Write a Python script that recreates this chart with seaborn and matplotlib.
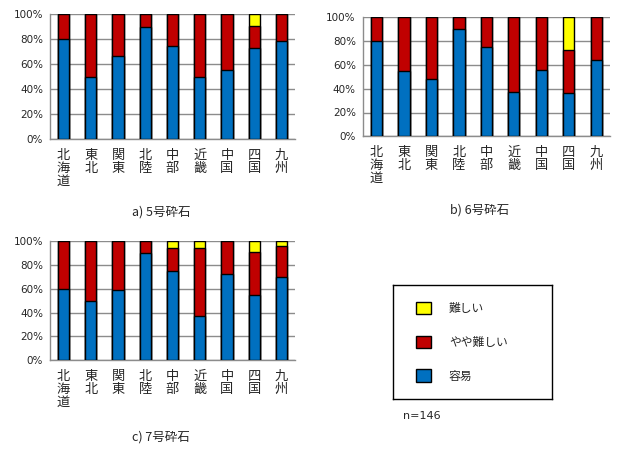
import matplotlib
matplotlib.use("Agg")
import matplotlib.pyplot as plt
import seaborn as sns
import pandas as pd
import numpy as np
from matplotlib.patches import Patch

regions = ["北海道", "東北", "関東", "北陸", "中部", "近畿", "中国", "四国", "九州"]
series_names = ["容易", "やや難しい", "難しい"]
colors = {"容易": "#0070C0", "やや難しい": "#C00000", "難しい": "#FFFF00"}

# a) 5号砕石 (percent)
a_easy = [80.0, 50.0, 66.7, 90.0, 75.0, 50.0, 55.6, 72.7, 78.6]
a_mid = [20.0, 50.0, 33.3, 10.0, 25.0, 50.0, 44.4, 18.2, 21.4]
a_hard = [0.0, 0.0, 0.0, 0.0, 0.0, 0.0, 0.0, 9.1, 0.0]

# b) 6号砕石
b_easy = [80.0, 54.5, 48.0, 90.0, 75.0, 37.5, 55.6, 36.4, 64.3]
b_mid = [20.0, 45.5, 52.0, 10.0, 25.0, 62.5, 44.4, 36.3, 35.7]
b_hard = [0.0, 0.0, 0.0, 0.0, 0.0, 0.0, 0.0, 27.3, 0.0]

# c) 7号砕石
c_easy = [60.0, 50.0, 58.8, 90.0, 75.0, 37.5, 72.2, 54.5, 69.6]
c_mid = [40.0, 50.0, 41.2, 10.0, 18.75, 56.25, 27.8, 36.4, 26.0]
c_hard = [0.0, 0.0, 0.0, 0.0, 6.25, 6.25, 0.0, 9.1, 4.4]

titles = ["a) 5号砕石", "b) 6号砕石", "c) 7号砕石"]
yticks = [0, 20, 40, 60, 80, 100]
ytick_labels = ["0%", "20%", "40%", "60%", "80%", "100%"]
n_label = "n=146"

sns.set_style("white")
plt.rcParams['font.family'] = ['Noto Sans CJK JP', 'DejaVu Sans']

W, H = 632, 453
fig = plt.figure(figsize=(W / 100, H / 100), dpi=100)


def box(l, r, t, b):
    return [l / W, (H - b) / H, (r - l) / W, (b - t) / H]


def draw(ax, easy, mid, hard, title, tx, ty):
    df = pd.DataFrame({"region": regions,
                       "easy": easy,
                       "mid": mid,
                       "hard": hard})
    df["c2"] = df["easy"] + df["mid"]
    df["c3"] = df["c2"] + df["hard"]
    kw = dict(x="region", order=regions, width=0.41, edgecolor="black",
              linewidth=1.0, errorbar=None, ax=ax, zorder=3)
    sns.barplot(data=df, y="c3", color=colors["難しい"], saturation=1, **kw)
    sns.barplot(data=df, y="c2", color=colors["やや難しい"], saturation=1, **kw)
    sns.barplot(data=df, y="easy", color=colors["容易"], saturation=1, **kw)
    ax.set_xlim(-0.5, len(regions) - 0.5)
    ax.set_ylim(0, 100)
    ax.set_yticks(yticks)
    ax.set_yticklabels(ytick_labels, fontsize=7.5, family="DejaVu Sans")
    ax.yaxis.grid(True, color="#8c8c8c", linewidth=1.0, zorder=0)
    ax.set_axisbelow(True)
    ax.set_xlabel("")
    ax.set_ylabel("")
    ax.set_xticks(range(len(regions)))
    ax.set_xticklabels(["\n".join(r) for r in regions], fontsize=9.5,
                       linespacing=1.0, va="top")
    ax.tick_params(axis="x", which="major", length=0, pad=7)
    ax.set_xticks(np.arange(-0.5, len(regions), 1.0), minor=True)
    ax.tick_params(axis="x", which="minor", length=3, color="#8c8c8c", width=1)
    ax.tick_params(axis="y", length=3, color="#8c8c8c", width=1, pad=2)
    for s in ["top", "right"]:
        ax.spines[s].set_visible(False)
    for s in ["left", "bottom"]:
        ax.spines[s].set_color("#8c8c8c")
        ax.spines[s].set_linewidth(1.0)
    fig.text(tx / W, 1 - ty / H, title, ha="center", va="center", fontsize=9)


ax_a = fig.add_axes(box(50, 295, 14.3, 139.3))
draw(ax_a, a_easy, a_mid, a_hard, titles[0], 161, 212)
ax_b = fig.add_axes(box(362.7, 610, 17.3, 136.3))
draw(ax_b, b_easy, b_mid, b_hard, titles[1], 480, 210)
ax_c = fig.add_axes(box(50, 295, 241, 360.3))
draw(ax_c, c_easy, c_mid, c_hard, titles[2], 161, 437)

# legend box
ax_l = fig.add_axes(box(393.3, 552.3, 285.3, 399))
ax_l.set_xticks([])
ax_l.set_yticks([])
for s in ax_l.spines.values():
    s.set_color("black")
    s.set_linewidth(1.0)
handles = [Patch(facecolor=colors[k], edgecolor="black", linewidth=1.0)
           for k in ["難しい", "やや難しい", "容易"]]
ax_l.legend(handles, ["難しい", "やや難しい", "容易"], loc="center left",
            bbox_to_anchor=(0.14, 0.5), frameon=False, fontsize=8.5,
            handlelength=1.27, handleheight=1.27, handletextpad=1.55,
            labelspacing=1.75, borderpad=0, borderaxespad=0)

fig.text(403 / W, 1 - 416 / H, n_label, ha="left", va="center", fontsize=8,
         family="DejaVu Sans")

fig.savefig("out.png", dpi=100)
